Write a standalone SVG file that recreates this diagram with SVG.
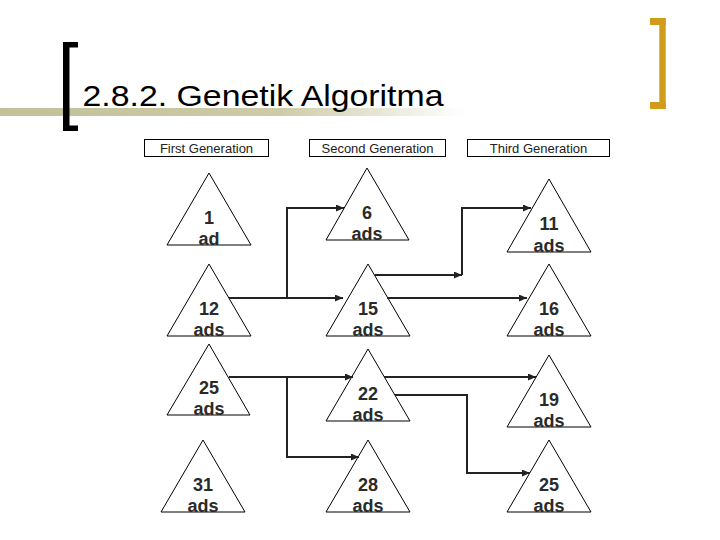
<svg xmlns="http://www.w3.org/2000/svg" width="720" height="540" viewBox="0 0 720 540">
<defs>
<linearGradient id="bar" gradientUnits="userSpaceOnUse" x1="0" y1="0" x2="465" y2="0">
<stop offset="0" stop-color="#c3c199"/>
<stop offset="0.6" stop-color="#cdcba8"/>
<stop offset="1" stop-color="#ffffff"/>
</linearGradient>
<marker id="ah" markerWidth="8" markerHeight="7" refX="8" refY="3.5" orient="auto" markerUnits="userSpaceOnUse">
<path d="M0,0 L8,3.5 L0,7 z" fill="#222"/>
</marker>
</defs>
<style>
.hdr rect{fill:#fff;stroke:#000;stroke-width:1}
.hdr text{font-family:"Liberation Sans",Arial,sans-serif;font-size:13px;fill:#222;text-anchor:middle}
.tri polygon{fill:#fff;stroke:#000;stroke-width:1}
.tri text{font-family:"Liberation Sans",Arial,sans-serif;font-size:18px;font-weight:bold;fill:#2a2a2a;text-anchor:middle}
.con path{fill:none;stroke:#222;stroke-width:2}
</style>
<rect x="0" y="108" width="465" height="8" fill="url(#bar)"/>
<g id="bracket-left" fill="#000">
<rect x="63" y="42" width="6.5" height="89"/>
<rect x="63" y="42" width="15" height="5.5"/>
<rect x="63" y="125.5" width="15" height="5.5"/>
</g>
<g id="bracket-right" fill="#cf9c1c">
<rect x="659.3" y="18" width="6.4" height="91"/>
<rect x="650" y="18" width="15.7" height="7"/>
<rect x="650" y="102" width="15.7" height="7"/>
</g>
<text id="title" x="82.5" y="106" font-family="'Liberation Sans',Arial,sans-serif" font-size="30" fill="#000" textLength="361" lengthAdjust="spacingAndGlyphs">2.8.2. Genetik Algoritma</text>
<g id="hdr1" class="hdr"><rect x="144.5" y="139.5" width="124" height="17"/><text x="206.5" y="153">First Generation</text></g>
<g id="hdr2" class="hdr"><rect x="309.5" y="139.5" width="136" height="17"/><text x="377.5" y="153">Second Generation</text></g>
<g id="hdr3" class="hdr"><rect x="467.5" y="139.5" width="142" height="17"/><text x="538.5" y="153">Third Generation</text></g>
<g id="t1" class="tri"><polygon points="209,173 251,245 167,245"/><text x="209" y="224">1</text><text x="209" y="245">ad</text></g>
<g id="t2" class="tri"><polygon points="209,264 251,336 167,336"/><text x="209" y="315">12</text><text x="209" y="336">ads</text></g>
<g id="t3" class="tri"><polygon points="209,344 250,415 167,415"/><text x="209" y="394">25</text><text x="209" y="415">ads</text></g>
<g id="t4" class="tri"><polygon points="203,440 245,512 161,512"/><text x="203" y="491">31</text><text x="203" y="512">ads</text></g>
<g id="t5" class="tri"><polygon points="367,168 409,240 326,240"/><text x="367" y="219">6</text><text x="367" y="240">ads</text></g>
<g id="t6" class="tri"><polygon points="368,264 410,336 326,336"/><text x="368" y="315">15</text><text x="368" y="336">ads</text></g>
<g id="t7" class="tri"><polygon points="368,349 410,421 326,421"/><text x="368" y="400">22</text><text x="368" y="421">ads</text></g>
<g id="t8" class="tri"><polygon points="368,440 410,512 326,512"/><text x="368" y="491">28</text><text x="368" y="512">ads</text></g>
<g id="t9" class="tri"><polygon points="549,179 591,252 507,252"/><text x="549" y="230">11</text><text x="549" y="252">ads</text></g>
<g id="t10" class="tri"><polygon points="549,264 591,336 507,336"/><text x="549" y="315">16</text><text x="549" y="336">ads</text></g>
<g id="t11" class="tri"><polygon points="549,355 591,427 507,427"/><text x="549" y="406">19</text><text x="549" y="427">ads</text></g>
<g id="t12" class="tri"><polygon points="549,440 591,512 507,512"/><text x="549" y="491">25</text><text x="549" y="512">ads</text></g>
<g id="connectors" class="con">
<path d="M229,298 H343" marker-end="url(#ah)"/>
<path d="M287,298 V208 H344" marker-end="url(#ah)"/>
<path d="M375,275 H462" marker-end="url(#ah)"/>
<path d="M462,275 V208 H531" marker-end="url(#ah)"/>
<path d="M387,298 H527" marker-end="url(#ah)"/>
<path d="M229,377 H353" marker-end="url(#ah)"/>
<path d="M287,377 V457 H359" marker-end="url(#ah)"/>
<path d="M384,377 H536" marker-end="url(#ah)"/>
<path d="M395,395 H467 V473 H530" marker-end="url(#ah)"/>
</g>
</svg>
